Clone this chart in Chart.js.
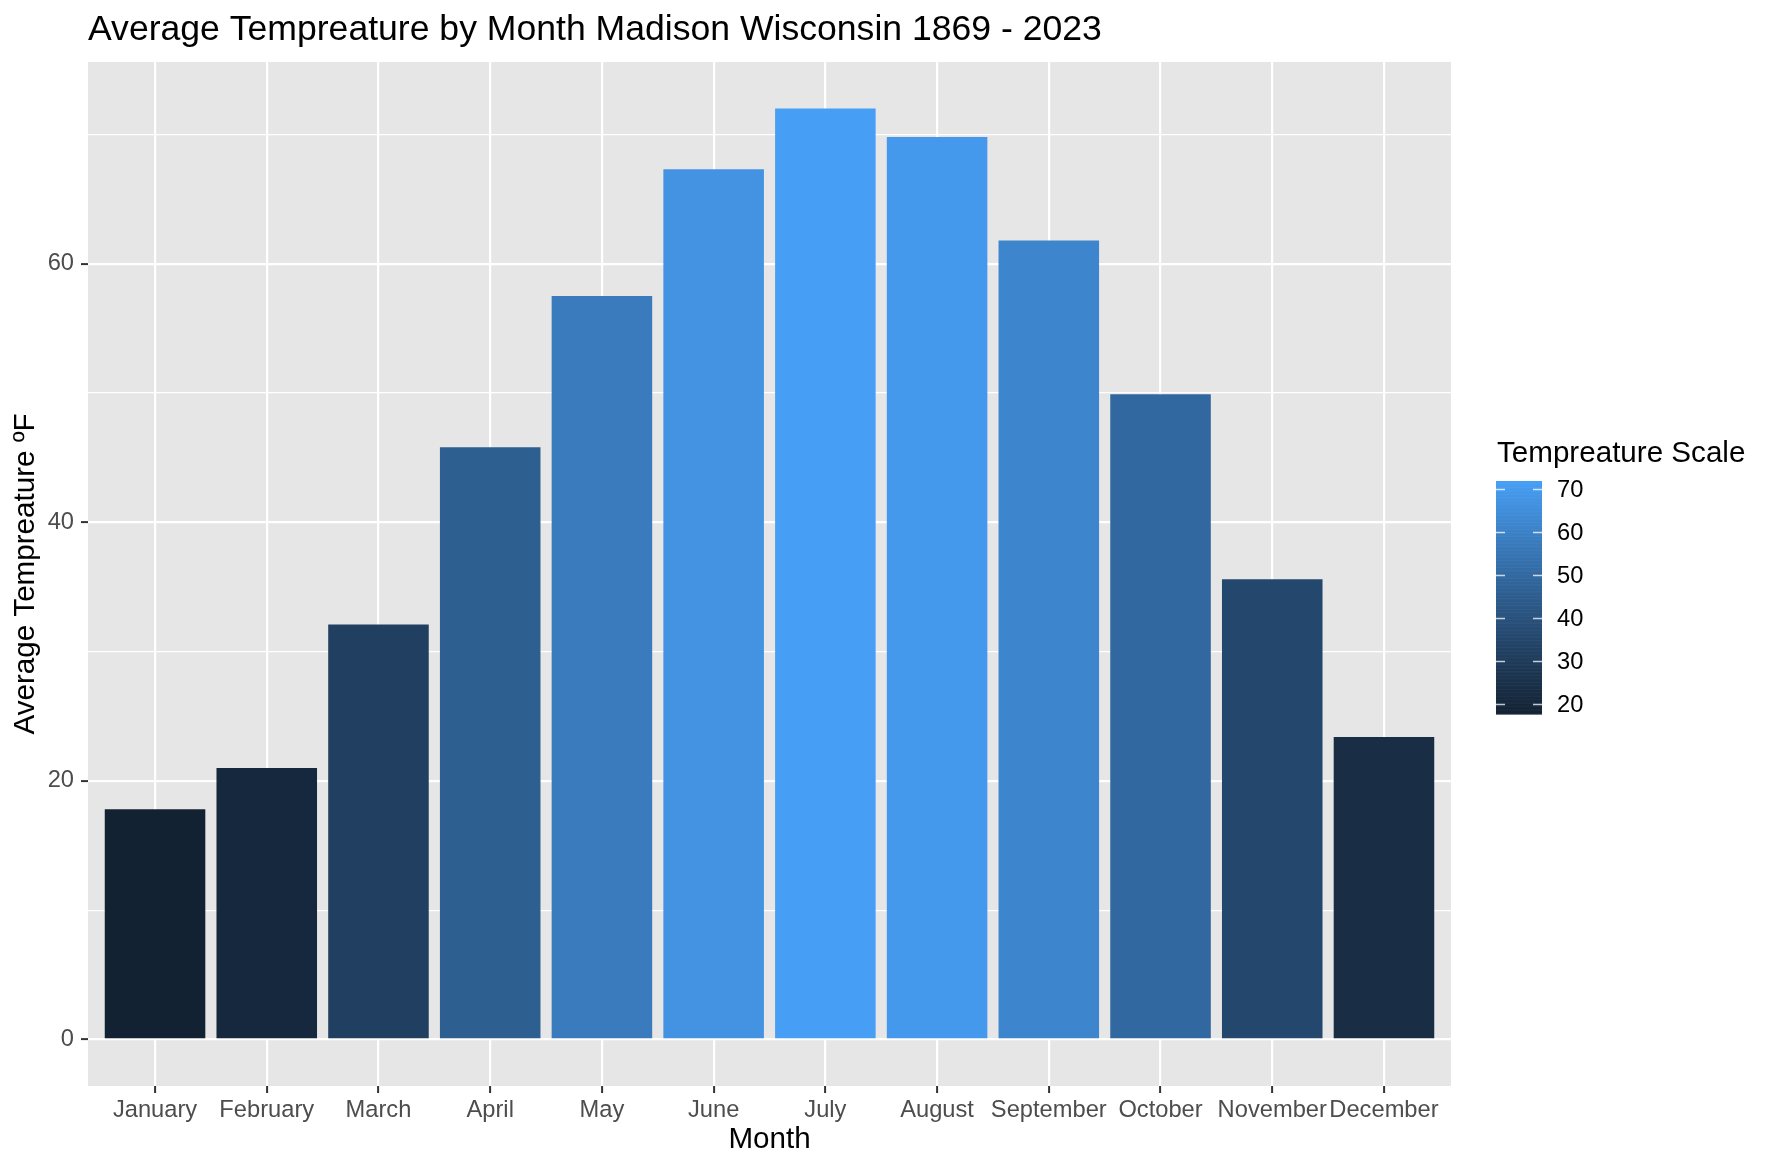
<!DOCTYPE html>
<html>
<head>
<meta charset="utf-8">
<title>Average Tempreature by Month Madison Wisconsin 1869 - 2023</title>
<script src="https://cdn.jsdelivr.net/npm/chart.js@4.4.1/dist/chart.umd.min.js"></script>
<style>
  html, body { margin: 0; padding: 0; background: #ffffff; }
  #chart { display: block; }
</style>
</head>
<body>
<canvas id="chart" width="1774" height="1170" style="width:1774px;height:1170px"></canvas>
<script>
// Data
const months = ['January', 'February', 'March', 'April', 'May', 'June',
                'July', 'August', 'September', 'October', 'November', 'December'];
const avgTemps = [17.8, 21.0, 32.1, 45.8, 57.5, 67.3, 72.0, 69.8, 61.8, 49.9, 35.6, 23.4];
const yMajorTicks = [0, 20, 40, 60];
const yMinorTicks = [10, 30, 50, 70];
const legendTicks = [20, 30, 40, 50, 60, 70];

const FONT = '"Liberation Sans", Arial, Helvetica, sans-serif';
const lowColor = '#132233';
const highColor = '#479FF5';

// --- colour ramp in CIELAB, like ggplot's default continuous fill ---
function hexToRgb(h) {
    h = h.replace('#', '');
    return [0, 2, 4].map(i => parseInt(h.substr(i, 2), 16) / 255);
}
function toLin(c) { return c <= 0.04045 ? c / 12.92 : Math.pow((c + 0.055) / 1.055, 2.4); }
function fromLin(c) { return c <= 0.0031308 ? 12.92 * c : 1.055 * Math.pow(c, 1 / 2.4) - 0.055; }
const WP = [0.95047, 1, 1.08883];
function rgbToLab(rgb) {
    const [r, g, b] = rgb.map(toLin);
    const xyz = [
        0.4124 * r + 0.3576 * g + 0.1805 * b,
        0.2126 * r + 0.7152 * g + 0.0722 * b,
        0.0193 * r + 0.1192 * g + 0.9505 * b
    ].map((v, i) => v / WP[i]);
    const f = t => t > 216 / 24389 ? Math.cbrt(t) : (24389 / 27 * t + 16) / 116;
    const [fx, fy, fz] = xyz.map(f);
    return [116 * fy - 16, 500 * (fx - fy), 200 * (fy - fz)];
}
function labToHex(lab) {
    const fy = (lab[0] + 16) / 116, fx = fy + lab[1] / 500, fz = fy - lab[2] / 200;
    const inv = t => t * t * t > 216 / 24389 ? t * t * t : (116 * t - 16) / (24389 / 27);
    const [x, y, z] = [inv(fx), inv(fy), inv(fz)].map((v, i) => v * WP[i]);
    const rgb = [
        3.2406 * x - 1.5372 * y - 0.4986 * z,
        -0.9689 * x + 1.8758 * y + 0.0415 * z,
        0.0557 * x - 0.2040 * y + 1.0570 * z
    ].map(v => Math.round(Math.min(1, Math.max(0, fromLin(v))) * 255));
    return '#' + rgb.map(v => v.toString(16).padStart(2, '0')).join('');
}
const labLow = rgbToLab(hexToRgb(lowColor));
const labHigh = rgbToLab(hexToRgb(highColor));
const tMin = Math.min(...avgTemps);
const tMax = Math.max(...avgTemps);
function fillFor(v) {
    const t = Math.min(1, Math.max(0, (v - tMin) / (tMax - tMin)));
    return labToHex(labLow.map((l, i) => l + (labHigh[i] - l) * t));
}

// grey panel behind the grid
const panelBg = {
    id: 'panelBg',
    beforeDraw(chart) {
        const { ctx, chartArea: a } = chart;
        ctx.save();
        ctx.fillStyle = '#E6E6E6';
        ctx.fillRect(a.left, a.top, a.right - a.left, a.bottom - a.top);
        ctx.restore();
    }
};

// plot title, left aligned on the panel
const plotTitle = {
    id: 'plotTitle',
    afterDraw(chart) {
        const { ctx, chartArea: a } = chart;
        ctx.save();
        ctx.font = '35.6px ' + FONT;
        ctx.fillStyle = '#000000';
        ctx.textAlign = 'left';
        ctx.textBaseline = 'alphabetic';
        ctx.fillText('Average Tempreature by Month Madison Wisconsin 1869 - 2023', a.left, 39.5);
        ctx.restore();
    }
};

// colourbar legend
const colourBar = {
    id: 'colourBar',
    afterDraw(chart) {
        const ctx = chart.ctx;
        const x = 1496, w = 46, top = 481, bottom = 714;
        const yOf = v => bottom - (v - tMin) / (tMax - tMin) * (bottom - top);
        ctx.save();
        ctx.font = '29.6px ' + FONT;
        ctx.fillStyle = '#000000';
        ctx.textAlign = 'left';
        ctx.textBaseline = 'alphabetic';
        ctx.fillText('Tempreature Scale', 1497, 462);

        const steps = 300;
        for (let i = 0; i < steps; i++) {
            const v0 = tMin + (tMax - tMin) * i / steps;
            const v1 = tMin + (tMax - tMin) * (i + 1) / steps;
            ctx.fillStyle = fillFor((v0 + v1) / 2);
            const y1 = yOf(v1), y0 = yOf(v0);
            ctx.fillRect(x, y1, w, y0 - y1 + 0.6);
        }
        ctx.strokeStyle = 'rgba(255,255,255,0.75)';
        ctx.lineWidth = 1.5;
        ctx.font = '23.7px ' + FONT;
        ctx.fillStyle = '#000000';
        ctx.textBaseline = 'middle';
        legendTicks.forEach(v => {
            const y = yOf(v);
            ctx.beginPath();
            ctx.moveTo(x, y); ctx.lineTo(x + 9, y);
            ctx.moveTo(x + w - 9, y); ctx.lineTo(x + w, y);
            ctx.stroke();
            ctx.fillText(String(v), 1557, y + 1);
        });
        ctx.restore();
    }
};

const ctx = document.getElementById('chart').getContext('2d');
const chart = new Chart(ctx, {
    type: 'bar',
    data: {
        datasets: [{
            label: 'Average Tempreature',
            data: avgTemps.map((v, i) => ({ x: i + 1, y: v })),
            backgroundColor: avgTemps.map(fillFor),
            borderWidth: 0,
            barPercentage: 0.9,
            categoryPercentage: 1.0
        }]
    },
    options: {
        responsive: false,
        animation: false,
        devicePixelRatio: 1,
        layout: { padding: { left: 0, top: 62, right: 323, bottom: 0 } },
        plugins: {
            legend: { display: false },
            title: { display: false },
            tooltip: { enabled: false }
        },
        scales: {
            x: {
                type: 'linear',
                min: 0.4,
                max: 12.6,
                offset: false,
                afterBuildTicks: scale => {
                    scale.ticks = months.map((m, i) => ({ value: i + 1 }));
                },
                afterFit: scale => { scale.height = 84; },
                border: { display: false },
                grid: {
                    offset: false,
                    color: '#FFFFFF',
                    lineWidth: 2.2,
                    tickLength: 7,
                    tickColor: '#333333',
                    tickWidth: 2
                },
                ticks: {
                    autoSkip: false,
                    maxRotation: 0,
                    padding: 3,
                    color: '#4D4D4D',
                    font: { family: FONT, size: 23.7 },
                    callback: v => months[Math.round(v) - 1] || ''
                },
                title: {
                    display: true,
                    text: 'Month',
                    color: '#000000',
                    font: { family: FONT, size: 29.6 },
                    padding: { top: 0, bottom: 12 }
                }
            },
            y: {
                min: -3.6,
                max: 75.6,
                afterBuildTicks: scale => {
                    scale.ticks = yMajorTicks.concat(yMinorTicks)
                        .sort((a, b) => a - b)
                        .map(v => ({ value: v }));
                },
                afterFit: scale => { scale.width = 88; },
                border: { display: false },
                grid: {
                    color: '#FFFFFF',
                    lineWidth: c => yMajorTicks.includes(c.tick.value) ? 2.2 : 1.2,
                    tickLength: 7,
                    tickColor: c => yMajorTicks.includes(c.tick.value) ? '#333333' : 'rgba(0,0,0,0)',
                    tickWidth: 2
                },
                ticks: {
                    padding: 7,
                    color: '#4D4D4D',
                    font: { family: FONT, size: 23.7 },
                    callback: v => yMajorTicks.includes(v) ? String(v) : ''
                },
                title: {
                    display: true,
                    text: 'Average Tempreature ºF',
                    color: '#000000',
                    font: { family: FONT, size: 29.6 },
                    padding: { top: 8, bottom: 0 }
                }
            }
        }
    },
    plugins: [panelBg, plotTitle, colourBar]
});
</script>
</body>
</html>
